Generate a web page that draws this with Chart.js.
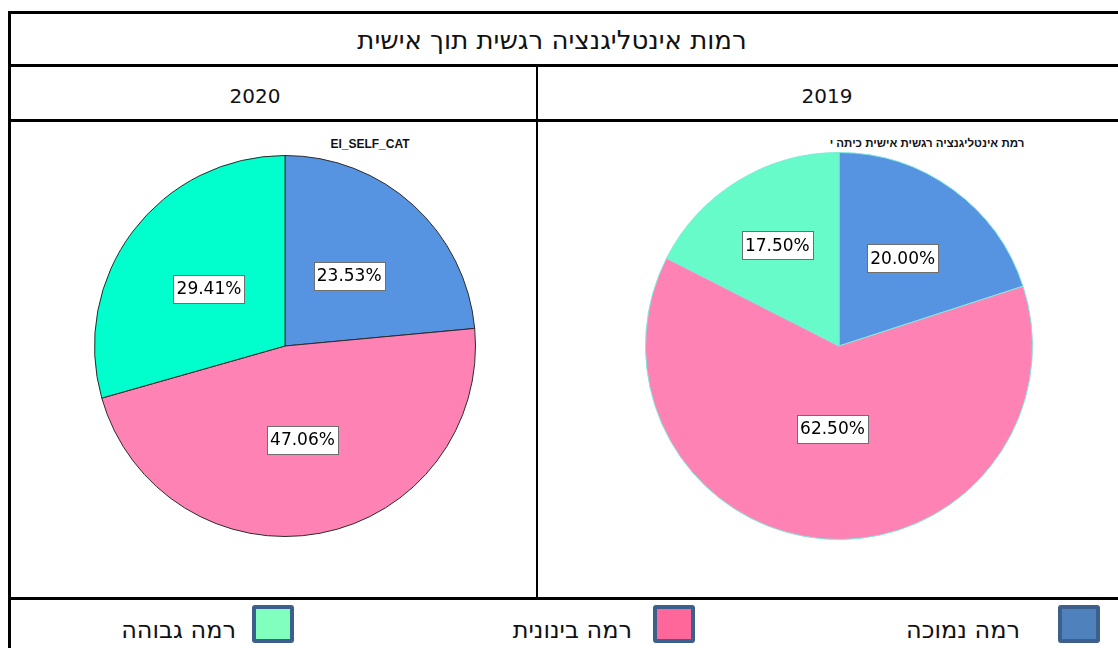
<!DOCTYPE html>
<html lang="he">
<head>
<meta charset="utf-8">
<script src="https://cdn.jsdelivr.net/npm/chart.js@4"></script>
<style>
  body { margin: 0; background: #fff; width: 1118px; height: 648px; overflow: hidden; position: relative; font-family: "DejaVu Sans", sans-serif; }
  .ln { position: absolute; background: #000; }
  .txt { position: absolute; color: #111; white-space: nowrap; line-height: 1; }
  canvas { position: absolute; }
  .sw { position: absolute; width: 34px; height: 30px; border: 4px solid #3c5f8c; border-radius: 3px; }
</style>
</head>
<body>
<!-- table grid -->
<div class="ln" style="left:8px;top:11px;width:1110px;height:3px"></div>
<div class="ln" style="left:8px;top:11px;width:3px;height:637px"></div>
<div class="ln" style="left:8px;top:64px;width:1110px;height:3px"></div>
<div class="ln" style="left:8px;top:119px;width:1110px;height:3px"></div>
<div class="ln" style="left:8px;top:597px;width:1110px;height:3px"></div>
<div class="ln" style="left:536px;top:64px;width:2px;height:535px"></div>

<div class="txt" id="mainTitle" dir="rtl" style="left:0;width:1104px;top:27px;text-align:center;font-size:26px"></div>
<div class="txt" id="year0" style="left:155px;width:200px;top:86px;text-align:center;font-size:20px"></div>
<div class="txt" id="year1" style="left:727px;width:200px;top:86px;text-align:center;font-size:20px"></div>
<div class="txt" id="sub0" style="left:270px;width:200px;top:137px;text-align:center;font:bold 12px 'Liberation Sans', sans-serif"></div>
<div class="txt" id="sub1" dir="rtl" style="left:816px;width:222px;top:137px;text-align:center;font:bold 11.5px 'Liberation Sans', sans-serif"></div>

<canvas id="pie2020" width="526" height="475" style="left:11px;top:122px"></canvas>
<canvas id="pie2019" width="578" height="475" style="left:538px;top:122px"></canvas>

<div id="legend"></div>

<script>
const title = "רמות אינטליגנציה רגשית תוך אישית";
const years = ["2020", "2019"];
const subTitles = ["EI_SELF_CAT", "רמת אינטליגנציה רגשית אישית כיתה י"];
const categories = ["רמה נמוכה", "רמה בינונית", "רמה גבוהה"];
const values2020 = [23.53, 47.06, 29.41];
const values2019 = [20.00, 62.50, 17.50];

const colors2020 = ["#5694e2", "#ff82b4", "#00ffcc"];
const colors2019 = ["#5694e2", "#ff82b4", "#66fbc8"];
const legendColors = ["#4f81bd", "#ff6699", "#80ffbf"];

document.getElementById("mainTitle").textContent = title;
document.getElementById("year0").textContent = years[0];
document.getElementById("year1").textContent = years[1];
document.getElementById("sub0").textContent = subTitles[0];
document.getElementById("sub1").textContent = subTitles[1];

// legend row (right to left like the original)
const legendPos = [
  { sw: 1058, textRight: 1020 },
  { sw: 653, textRight: 632 },
  { sw: 252, textRight: 236 }
];
const legend = document.getElementById("legend");
categories.forEach((c, i) => {
  const sw = document.createElement("div");
  sw.className = "sw";
  sw.style.left = legendPos[i].sw + "px";
  sw.style.top = "605px";
  sw.style.background = legendColors[i];
  legend.appendChild(sw);
  const t = document.createElement("div");
  t.className = "txt";
  t.dir = "rtl";
  t.textContent = c;
  t.style.font = "24px 'DejaVu Sans', sans-serif";
  t.style.right = (1118 - legendPos[i].textRight) + "px";
  t.style.top = "616px";
  legend.appendChild(t);
});

// boxed percentage labels inside the slices
const boxLabels = {
  id: "boxLabels",
  afterDatasetsDraw(chart, args, opts) {
    const ctx = chart.ctx;
    const meta = chart.getDatasetMeta(0);
    ctx.save();
    ctx.font = "17px 'DejaVu Sans', sans-serif";
    ctx.textAlign = "center";
    ctx.textBaseline = "middle";
    meta.data.forEach((arc, i) => {
      const mid = (arc.startAngle + arc.endAngle) / 2;
      const r = arc.outerRadius * opts.radius[i];
      const x = arc.x + Math.cos(mid) * r;
      const y = arc.y + Math.sin(mid) * r;
      const txt = chart.data.datasets[0].data[i].toFixed(2) + "%";
      const w = Math.round(ctx.measureText(txt).width + 6);
      const h = 28;
      const bx = Math.round(x - w / 2) + 0.5, by = Math.round(y - h / 2) + 0.5;
      ctx.fillStyle = "#fff";
      ctx.fillRect(bx, by, w, h);
      ctx.strokeStyle = "#6e6e6e";
      ctx.lineWidth = 1;
      ctx.strokeRect(bx, by, w, h);
      ctx.fillStyle = "#000";
      ctx.fillText(txt, x, y + 1);
    });
    ctx.restore();
  }
};

function makePie(id, values, colors, border, pad, labelRadius) {
  return new Chart(document.getElementById(id), {
    type: "pie",
    data: {
      labels: categories,
      datasets: [{
        data: values,
        backgroundColor: colors,
        borderColor: border,
        borderWidth: 1
      }]
    },
    options: {
      responsive: false,
      animation: false,
      layout: { padding: pad },
      plugins: {
        legend: { display: false },
        tooltip: { enabled: false },
        boxLabels: { radius: labelRadius }
      }
    },
    plugins: [boxLabels]
  });
}

makePie("pie2020", values2020, colors2020, "#2b2b2b",
  { left: 83, right: 61, top: 33, bottom: 60 }, [0.5, 0.5, 0.5]);
makePie("pie2019", values2019, colors2019, "#7fe9dc",
  { left: 107, right: 83, top: 30, bottom: 57 }, [0.56, 0.43, 0.61]);
</script>
</body>
</html>
